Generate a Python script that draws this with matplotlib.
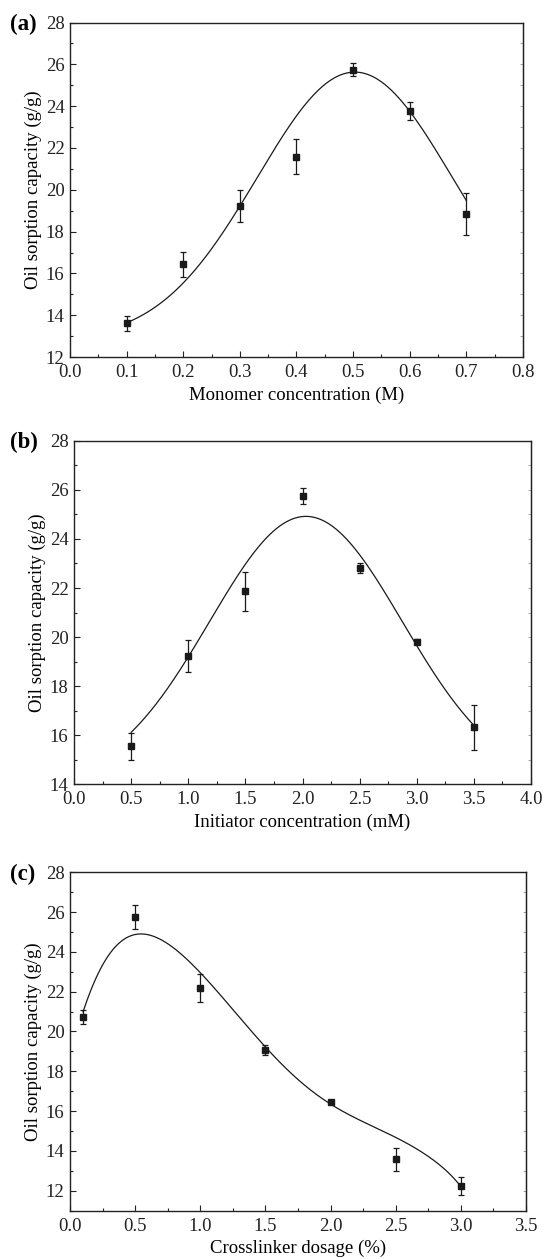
import numpy as np
import matplotlib
matplotlib.use("Agg")
import matplotlib.pyplot as plt
from matplotlib.ticker import MultipleLocator, FormatStrFormatter

plt.rcParams['font.family'] = ['Liberation Serif', 'DejaVu Serif']

# (a) monomer concentration
x_a = [0.1, 0.2, 0.3, 0.4, 0.5, 0.6, 0.7]
y_a = [13.61, 16.43, 19.24, 21.59, 25.74, 23.76, 18.84]
e_a = [0.34, 0.60, 0.77, 0.83, 0.32, 0.43, 1.00]
# gauss fit: y0, A, xc, w
fit_a = [12.8, 12.83, 0.503, 0.345]

# (b) initiator concentration
x_b = [0.5, 1.0, 1.5, 2.0, 2.5, 3.0, 3.5]
y_b = [15.56, 19.24, 21.86, 25.75, 22.83, 19.81, 16.32]
e_b = [0.55, 0.66, 0.80, 0.32, 0.21, 0.10, 0.90]
fit_b = [14.0, 10.92, 2.03, 1.69]

# (c) crosslinker dosage
x_c = [0.1, 0.5, 1.0, 1.5, 2.0, 2.5, 3.0]
y_c = [20.75, 25.76, 22.18, 19.06, 16.44, 13.59, 12.25]
e_c = [0.35, 0.60, 0.71, 0.25, 0.08, 0.58, 0.45]
# smooth fit curve
curve_x_c = [0.1, 0.137, 0.227, 0.329, 0.432, 0.55, 0.74, 1.0, 1.25, 1.5,
             1.763, 2.0, 2.147, 2.275, 2.531, 2.633, 2.787, 2.869, 3.0]
curve_y_c = [21.0, 21.67, 23.0, 24.18, 24.69, 24.9, 24.43, 22.95, 21.17, 19.16,
             17.49, 16.43, 15.82, 15.31, 14.56, 14.26, 13.56, 13.09, 12.22]

ylabel = 'Oil sorption capacity (g/g)'


def gauss(x, p):
    y0, A, xc, w = p
    return y0 + A * np.exp(-2 * (x - xc) ** 2 / w ** 2)


def style_axes(ax, xlim, ylim, xmaj, xmin, ymaj, ymin, xlabel):
    ax.set_xlim(*xlim)
    ax.set_ylim(*ylim)
    ax.xaxis.set_major_locator(MultipleLocator(xmaj))
    ax.xaxis.set_minor_locator(MultipleLocator(xmin))
    ax.yaxis.set_major_locator(MultipleLocator(ymaj))
    ax.yaxis.set_minor_locator(MultipleLocator(ymin))
    ax.xaxis.set_major_formatter(FormatStrFormatter('%.1f'))
    ax.yaxis.set_major_formatter(FormatStrFormatter('%d'))
    ax.tick_params(which='both', direction='in', labelsize=13.5, colors='#222222',
                   top=False, right=False)
    ax.tick_params(which='major', length=4.5, width=0.8)
    ax.tick_params(which='minor', length=2.5, width=0.8)
    ax.tick_params(axis='x', which='major', pad=5)
    ax.tick_params(axis='y', which='major', pad=4)
    ax2 = ax.secondary_yaxis('right')
    ax2.yaxis.set_major_locator(MultipleLocator(ymin))
    ax2.tick_params(direction='in', length=2, width=0.6, colors='#999999', labelright=False)
    for s in ax.spines.values():
        s.set_linewidth(1.0)
        s.set_color('#222222')
    ax.set_xlabel(xlabel, fontsize=13.5, labelpad=4)
    ax.set_ylabel(ylabel, fontsize=13.5, labelpad=3)


def draw_points(ax, x, y, e):
    ax.errorbar(x, y, yerr=e, fmt='s', color='#1a1a1a', ms=5, capsize=2.5,
                elinewidth=0.9, capthick=0.9, zorder=3)


fig = plt.figure(figsize=(5.45, 12.59), dpi=100)

ax_a = fig.add_axes([0.1284, 0.7164, 0.8312, 0.2657])
xx = np.linspace(x_a[0], x_a[-1], 300)
ax_a.plot(xx, gauss(xx, fit_a), color='#1a1a1a', lw=0.9)
draw_points(ax_a, x_a, y_a, e_a)
style_axes(ax_a, (0, 0.8), (12, 28), 0.1, 0.05, 2, 1, 'Monomer concentration (M)')

ax_b = fig.add_axes([0.1358, 0.3770, 0.8385, 0.2729])
xx = np.linspace(x_b[0], x_b[-1], 300)
ax_b.plot(xx, gauss(xx, fit_b), color='#1a1a1a', lw=0.9)
draw_points(ax_b, x_b, y_b, e_b)
style_axes(ax_b, (0, 4.0), (14, 28), 0.5, 0.25, 2, 1, 'Initiator concentration (mM)')

ax_c = fig.add_axes([0.1284, 0.0384, 0.8367, 0.2688])
poly = np.polynomial.Polynomial.fit(curve_x_c, curve_y_c, 9)
xx = np.linspace(x_c[0], x_c[-1], 300)
ax_c.plot(xx, poly(xx), color='#1a1a1a', lw=0.9)
draw_points(ax_c, x_c, y_c, e_c)
style_axes(ax_c, (0, 3.5), (11, 28), 0.5, 0.25, 2, 1, 'Crosslinker dosage (%)')

for ax, lab in [(ax_a, '(a)'), (ax_b, '(b)'), (ax_c, '(c)')]:
    top = ax.get_position().y1
    fig.text(10 / 545, top - 2 / 1259, lab, fontsize=16.5, fontweight='bold',
             va='center', ha='left')

fig.savefig('out.png', dpi=100)
